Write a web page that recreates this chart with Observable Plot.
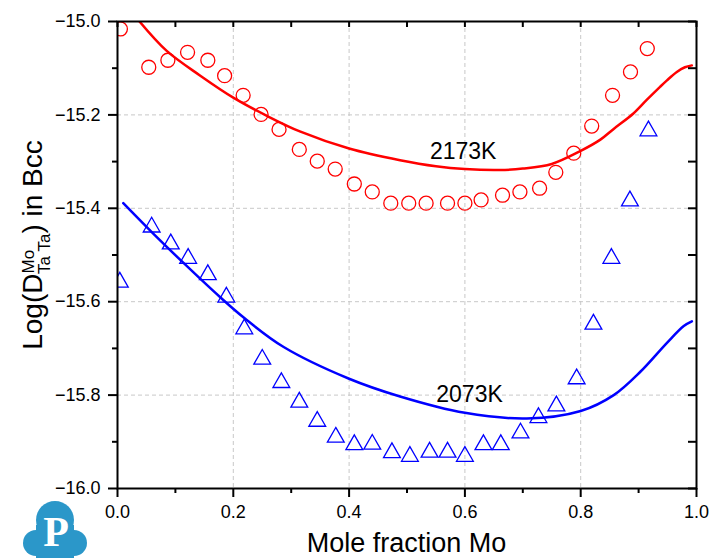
<!DOCTYPE html>
<html><head><meta charset="utf-8">
<script src="https://cdn.jsdelivr.net/npm/d3@7"></script>
<script src="https://cdn.jsdelivr.net/npm/@observablehq/plot@0.6"></script>
<style>body{margin:0;background:#fff} #wrap{position:relative;width:712px;height:558px}</style>
</head><body><div id="wrap"></div>
<script>
// Experimental data, 2173K (circles)
const circleX = [0.005,0.054,0.087,0.121,0.156,0.185,0.217,0.248,0.279,0.314,0.345,0.376,0.409,0.440,0.472,0.503,0.533,0.570,0.600,0.628,0.665,0.695,0.729,0.757,0.788,0.819,0.855,0.886,0.915];
const circleY = [-15.016,-15.098,-15.083,-15.066,-15.083,-15.116,-15.158,-15.199,-15.231,-15.274,-15.299,-15.316,-15.348,-15.365,-15.389,-15.389,-15.389,-15.389,-15.389,-15.382,-15.372,-15.365,-15.357,-15.323,-15.282,-15.224,-15.158,-15.108,-15.058];
// Experimental data, 2073K (triangles)
const triX = [0.004,0.059,0.092,0.122,0.156,0.188,0.219,0.250,0.283,0.314,0.345,0.377,0.409,0.440,0.474,0.505,0.539,0.570,0.600,0.632,0.662,0.696,0.727,0.758,0.793,0.822,0.853,0.885,0.917];
const triY = [-15.553,-15.435,-15.471,-15.502,-15.537,-15.585,-15.653,-15.718,-15.768,-15.810,-15.851,-15.885,-15.901,-15.900,-15.918,-15.926,-15.917,-15.917,-15.926,-15.901,-15.901,-15.876,-15.843,-15.818,-15.760,-15.643,-15.502,-15.379,-15.229];
// Calculated curves
const calc2173X = [0.038,0.085,0.143,0.200,0.258,0.316,0.400,0.488,0.550,0.600,0.660,0.700,0.750,0.800,0.834,0.857,0.891,0.914,0.937,0.949,0.966,0.980,0.992];
const calc2173Y = [-15.000,-15.063,-15.116,-15.163,-15.202,-15.236,-15.272,-15.297,-15.310,-15.316,-15.318,-15.315,-15.305,-15.277,-15.253,-15.230,-15.197,-15.168,-15.140,-15.126,-15.108,-15.098,-15.094];
const calc2073X = [0.010,0.060,0.114,0.177,0.219,0.287,0.400,0.488,0.600,0.707,0.800,0.857,0.903,0.949,0.978,0.992];
const calc2073Y = [-15.389,-15.452,-15.517,-15.590,-15.635,-15.697,-15.765,-15.803,-15.838,-15.850,-15.834,-15.800,-15.750,-15.688,-15.652,-15.642];
// Curve labels
const labelText = ["2173K","2073K"];
const labelX = [0.597,0.608];
const labelY = [-15.279,-15.800];
// Ticks
const xMajor = [0,0.2,0.4,0.6,0.8,1.0];
const xMinor = [0.1,0.3,0.5,0.7,0.9];
const yMajor = [-16,-15.8,-15.6,-15.4,-15.2,-15];
const yMinor = [-15.9,-15.7,-15.5,-15.3,-15.1];
const xGrid = [0.2,0.4,0.6,0.8];
const yGrid = [-15.8,-15.6,-15.4,-15.2];

const circles = circleX.map((x,i)=>({x, y:circleY[i]}));
const tris = triX.map((x,i)=>({x, y:triY[i]}));
const c2173 = calc2173X.map((x,i)=>({x, y:calc2173Y[i]}));
const c2073 = calc2073X.map((x,i)=>({x, y:calc2073Y[i]}));
const labels = labelText.map((t,i)=>({t, x:labelX[i], y:labelY[i]}));

const triangleBox = {draw(ctx, size){ const r=Math.sqrt(size/Math.PI); const w=r*1.2, h=r*1.05; ctx.moveTo(0,-h); ctx.lineTo(w,h); ctx.lineTo(-w,h); ctx.closePath(); }};
const FONT = "'Liberation Sans', Arial, sans-serif";
const fmt = d3.format(".1f");

const W=712, H=558, ML=117, MR=16, MT=21, MB=70;
const plotW = W-ML-MR, plotH = H-MT-MB;

const chart = Plot.plot({
  width: W, height: H,
  marginLeft: ML, marginRight: MR, marginTop: MT, marginBottom: MB,
  style: {fontFamily: FONT, fontSize: "18px", background: "white", color: "black", overflow: "visible"},
  x: {domain: [0,1]},
  y: {domain: [-16,-15]},
  marks: [
    Plot.gridX(xGrid, {stroke: "#c8c8c8", strokeOpacity: 1, strokeDasharray: "4,3", strokeWidth: 1}),
    Plot.gridY(yGrid, {stroke: "#c8c8c8", strokeOpacity: 1, strokeDasharray: "4,3", strokeWidth: 1}),
    Plot.line(c2173, {x:"x", y:"y", stroke:"#ff0000", strokeWidth:2.5, curve:"catmull-rom", clip:true}),
    Plot.line(c2073, {x:"x", y:"y", stroke:"#0000ff", strokeWidth:2.5, curve:"catmull-rom", clip:true}),
    Plot.dot(circles, {x:"x", y:"y", r:7, stroke:"#ff0000", fill:"none", strokeWidth:1.3, clip:true}),
    Plot.dot(tris, {x:"x", y:"y", r:7, symbol: triangleBox, stroke:"#0000ff", fill:"none", strokeWidth:1.3, clip:true}),
    Plot.text(labels, {x:"x", y:"y", text:"t", fontSize:23, fill:"black", fontFamily: FONT}),
    Plot.axisX(xMajor, {tickSize:9, tickPadding:8, strokeWidth:2, tickFormat: fmt, fontSize:18, label:null}),
    Plot.axisX(xMinor, {tickSize:5, strokeWidth:2, tickFormat: () => "", label:null}),
    Plot.axisY(yMajor, {tickSize:9, tickPadding:8, strokeWidth:2, tickFormat: fmt, fontSize:18, label:null}),
    Plot.axisY(yMinor, {tickSize:5, strokeWidth:2, tickFormat: () => "", label:null}),
    Plot.ruleX(xMajor.concat(xMinor), {stroke:"black", strokeWidth:2, insetBottom: plotH-6}),
    Plot.ruleY(yMajor.concat(yMinor), {stroke:"black", strokeWidth:2, insetLeft: plotW-8}),
    Plot.frame({stroke:"black", strokeWidth:2})
  ]
});
document.getElementById("wrap").appendChild(chart);

const svg = d3.select(chart);
// X axis title
svg.append("text").attr("x", ML + plotW/2).attr("y", 552).attr("text-anchor","middle")
  .attr("font-family", FONT).attr("font-size", 27).attr("fill","black").text("Mole fraction Mo");
// Y axis title with super/subscripts
const yt = svg.append("text").attr("transform","translate(42,245) rotate(-90)").attr("text-anchor","middle")
  .attr("font-family", FONT).attr("font-size", 28).attr("fill","black");
yt.append("tspan").text("Log(D");
yt.append("tspan").attr("font-size",17).attr("dy",-8).text("Mo");
yt.append("tspan").attr("font-size",17).attr("dx",-24).attr("dy",16).text("Ta Ta");
yt.append("tspan").attr("dy",-8).text(") in Bcc");
// Logo
const logo = svg.append("g").attr("fill","#2b97c9");
logo.append("circle").attr("cx",55).attr("cy",520).attr("r",19);
logo.append("circle").attr("cx",36).attr("cy",543).attr("r",13);
logo.append("circle").attr("cx",74).attr("cy",543).attr("r",13);
logo.append("rect").attr("x",36).attr("y",525).attr("width",38).attr("height",33);
svg.append("text").attr("x",56).attr("y",546).attr("text-anchor","middle")
  .attr("font-family","'Liberation Serif', serif").attr("font-weight","bold").attr("font-size",42)
  .attr("fill","white").text("P");
</script>
</body></html>
